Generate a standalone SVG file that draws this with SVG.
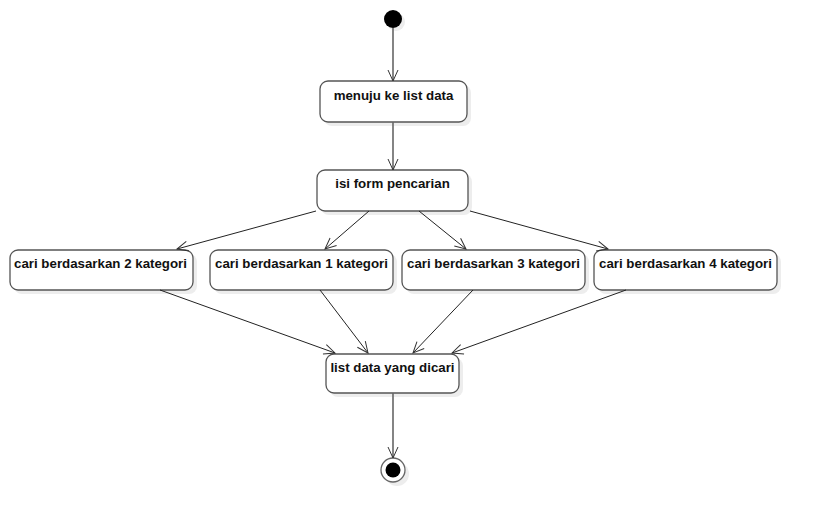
<svg xmlns="http://www.w3.org/2000/svg" width="817" height="523" viewBox="0 0 817 523">
<style>
.sh{fill:#ededed;stroke:none}
.box{fill:#fff;stroke:#555;stroke-width:1.3}
.t{font-family:"Liberation Sans",Arial,sans-serif;font-weight:bold;font-size:13.3px;fill:#111;text-anchor:middle}
.c{stroke:#222;stroke-width:1;fill:none;marker-end:url(#a)}
.v{stroke:#666;stroke-width:1.6;fill:none;marker-end:url(#a)}
</style>
<defs>
<marker id="a" markerWidth="14" markerHeight="14" refX="12" refY="6" orient="auto" markerUnits="userSpaceOnUse">
<path d="M1,1 L12,6 L1,11" fill="none" stroke="#333" stroke-width="1"/>
</marker>
</defs>
<rect width="817" height="523" fill="#fff"/>
<g id="start">
<circle cx="396" cy="22" r="9" class="sh"/>
<circle cx="393" cy="19" r="9" fill="#000"/>
</g>
<g id="n1">
<rect x="324" y="85" width="147" height="41" rx="8" class="sh"/>
<rect x="320" y="81" width="147" height="41" rx="8" class="box"/>
<text x="393.5" y="99.5" class="t">menuju ke list data</text>
</g>
<g id="n2">
<rect x="321" y="174" width="151" height="41" rx="8" class="sh"/>
<rect x="317" y="170" width="151" height="41" rx="8" class="box"/>
<text x="392.5" y="187.5" class="t">isi form pencarian</text>
</g>
<g id="n3">
<rect x="14" y="254" width="183" height="40" rx="8" class="sh"/>
<rect x="10" y="250" width="183" height="40" rx="8" class="box"/>
<text x="100.5" y="267.5" class="t">cari berdasarkan 2 kategori</text>
</g>
<g id="n4">
<rect x="214" y="254" width="183" height="40" rx="8" class="sh"/>
<rect x="210" y="250" width="183" height="40" rx="8" class="box"/>
<text x="301.5" y="267.5" class="t">cari berdasarkan 1 kategori</text>
</g>
<g id="n5">
<rect x="406" y="254" width="183" height="40" rx="8" class="sh"/>
<rect x="402" y="250" width="183" height="40" rx="8" class="box"/>
<text x="493.5" y="267.5" class="t">cari berdasarkan 3 kategori</text>
</g>
<g id="n6">
<rect x="598" y="254" width="183" height="40" rx="8" class="sh"/>
<rect x="594" y="250" width="183" height="40" rx="8" class="box"/>
<text x="685.5" y="267.5" class="t">cari berdasarkan 4 kategori</text>
</g>
<g id="n7">
<rect x="330" y="358" width="133" height="39" rx="8" class="sh"/>
<rect x="326" y="354" width="133" height="39" rx="8" class="box"/>
<text x="392.5" y="372" class="t">list data yang dicari</text>
</g>
<g id="end">
<circle cx="397" cy="474" r="12" class="sh"/>
<circle cx="393" cy="470" r="12" fill="#fff" stroke="#666" stroke-width="1.3"/>
<circle cx="393" cy="470" r="7.5" fill="#000"/>
</g>
<g id="connectors">
<line x1="393" y1="28" x2="393" y2="81" class="v"/>
<line x1="393" y1="122" x2="393" y2="170" class="v"/>
<line x1="316" y1="211" x2="177" y2="249" class="c"/>
<line x1="369" y1="211" x2="325" y2="249" class="c"/>
<line x1="419" y1="211" x2="466" y2="249" class="c"/>
<line x1="470" y1="211" x2="608" y2="249" class="c"/>
<line x1="160" y1="290" x2="335" y2="353" class="c"/>
<line x1="320" y1="290" x2="368" y2="353" class="c"/>
<line x1="473" y1="290" x2="413" y2="353" class="c"/>
<line x1="626" y1="290" x2="452" y2="353" class="c"/>
<line x1="393" y1="393" x2="393" y2="458" class="v"/>
</g>
</svg>
